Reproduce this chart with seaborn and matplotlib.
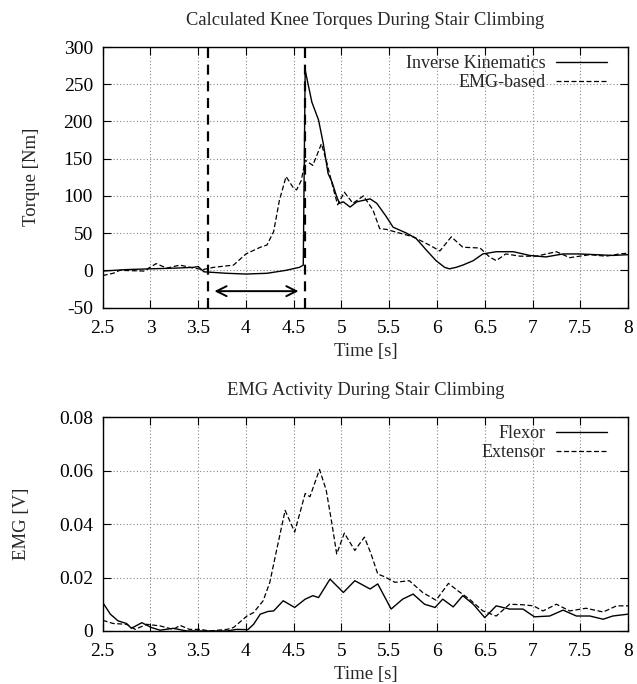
"""
knee torque and EMG during stair climbing, gnuplot-like look
"""

import matplotlib
matplotlib.use("Agg")
import matplotlib.pyplot as plt
from matplotlib.axes import Axes
from matplotlib.ticker import FuncFormatter, MultipleLocator
import seaborn as sns

# --- torque panel ---
ik_t = [2.5, 2.75, 3.0, 3.27, 3.45, 3.5, 3.56, 3.8, 4.0, 4.22, 4.42, 4.56, 4.6,
        4.62, 4.69, 4.76, 4.81, 4.86, 4.9, 4.95, 4.98, 5.02, 5.09, 5.16, 5.23,
        5.3, 5.37, 5.47, 5.54, 5.68, 5.78, 5.89, 5.99, 6.08, 6.13, 6.2, 6.27,
        6.38, 6.48, 6.62, 6.8, 6.97, 7.14, 7.32, 7.49, 7.67, 7.84, 8.0]
ik_torque = [-1, 1, 2, 3, 4, 5, -2, -4, -5, -4, 0, 4, 7,
             269, 226, 202, 170, 130, 119, 99, 90, 92, 85, 92, 94,
             96, 90, 72, 58, 50, 43, 27, 13, 4, 2, 4, 7,
             13, 22, 25, 25, 20, 18, 22, 22, 21, 20, 21]

emg_t = [2.5, 2.61, 2.68, 2.93, 3.06, 3.17, 3.31, 3.45, 3.55, 3.66, 3.87, 4.0,
         4.15, 4.22, 4.29, 4.35, 4.42, 4.49, 4.53, 4.58, 4.62, 4.7, 4.79, 4.84,
         4.91, 4.96, 5.03, 5.12, 5.23, 5.33, 5.4, 5.47, 5.58, 5.75, 5.92, 6.03,
         6.15, 6.27, 6.45, 6.55, 6.62, 6.72, 6.87, 7.04, 7.25, 7.39, 7.6, 7.77,
         7.91, 8.0]
emg_torque = [-7, -4, 0, -1, 9, 3, 7, 3, 1, 4, 7, 22,
              31, 34, 52, 94, 126, 112, 108, 121, 148, 141, 170, 148,
              112, 88, 105, 90, 100, 81, 56, 55, 51, 45, 34, 26,
              45, 31, 30, 18, 13, 22, 19, 19, 25, 17, 21, 19,
              22, 23]

phase_lines = [3.6, 4.62]
arrow_span = (3.67, 4.55)
arrow_y = -28

# --- EMG panel ---
flex_t = [2.5, 2.58, 2.66, 2.75, 2.8, 2.91, 3.01, 3.1, 3.24, 3.38, 3.62, 3.8,
          3.9, 4.02, 4.08, 4.15, 4.23, 4.29, 4.39, 4.51, 4.62, 4.7, 4.76, 4.88,
          4.95, 5.02, 5.14, 5.3, 5.38, 5.52, 5.64, 5.75, 5.87, 5.98, 6.06, 6.17,
          6.27, 6.38, 6.5, 6.62, 6.76, 6.9, 7.02, 7.18, 7.32, 7.46, 7.6, 7.74,
          7.84, 8.0]
flex_v = [0.0107, 0.0063, 0.0038, 0.0028, 0.001, 0.0031, 0.0013, 0.0003, 0.001,
          0.0, 0.0, 0.0, 0.0006, 0.0005, 0.0025, 0.0063, 0.0073, 0.0075, 0.0113,
          0.0088, 0.0119, 0.0132, 0.0125, 0.0194, 0.0169, 0.0144, 0.0188, 0.0157,
          0.0176, 0.0082, 0.0119, 0.0138, 0.01, 0.0088, 0.0119, 0.009, 0.0132,
          0.01, 0.005, 0.0094, 0.0082, 0.0082, 0.0053, 0.0056, 0.0078, 0.0056,
          0.0056, 0.0044, 0.0056, 0.0063]

ext_t = [2.5, 2.61, 2.75, 2.84, 2.96, 3.1, 3.24, 3.31, 3.41, 3.52, 3.62, 3.8,
         3.87, 4.01, 4.08, 4.18, 4.25, 4.32, 4.41, 4.51, 4.62, 4.67, 4.77, 4.84,
         4.9, 4.95, 5.03, 5.14, 5.24, 5.31, 5.38, 5.45, 5.56, 5.71, 5.85, 5.99,
         6.12, 6.22, 6.34, 6.48, 6.62, 6.76, 6.9, 7.01, 7.11, 7.25, 7.39, 7.56,
         7.74, 7.88, 8.0]
ext_v = [0.004, 0.0028, 0.0025, 0.0006, 0.0025, 0.0019, 0.0006, 0.0021, 0.0006,
         0.0006, 0.0, 0.0006, 0.0013, 0.0056, 0.0069, 0.0113, 0.0182, 0.0301,
         0.0451, 0.037, 0.0514, 0.0502, 0.0604, 0.0527, 0.0401, 0.0288, 0.0366,
         0.0301, 0.0351, 0.0288, 0.0213, 0.0203, 0.0182, 0.0188, 0.0144, 0.0115,
         0.0178, 0.015, 0.0119, 0.0075, 0.0056, 0.01, 0.0098, 0.0094, 0.0075,
         0.01, 0.0075, 0.0085, 0.0071, 0.0094, 0.0094]

FS = 13
DASH = (0, (4, 2))


def gnuplot_axes(ax: Axes, ylim, ystep, title, ylabel, ylabelpad):
    ax.set_xlim(2.5, 8)
    ax.set_ylim(*ylim)
    ax.xaxis.set_major_locator(MultipleLocator(0.5))
    ax.yaxis.set_major_locator(MultipleLocator(ystep))
    fmt = FuncFormatter(lambda v, p: "%g" % round(v, 6))
    ax.xaxis.set_major_formatter(fmt)
    ax.yaxis.set_major_formatter(fmt)
    ax.tick_params(direction="in", top=True, right=True, length=6, width=0.8,
                   labelsize=14, colors="black")
    ax.tick_params(axis="x", pad=9)
    ax.tick_params(axis="y", pad=7)
    ax.grid(True, color="#888888", linestyle=(0, (1, 2)), linewidth=0.8)
    for s in ax.spines.values():
        s.set_color("black")
        s.set_linewidth(1.0)
    ax.set_title(title, fontsize=13.3, pad=16)
    ax.set_xlabel("Time [s]", fontsize=13.5, labelpad=4)
    ax.set_ylabel(ylabel, fontsize=13.5, labelpad=ylabelpad)


def add_legend(ax: Axes):
    ax.legend(loc="upper right", bbox_to_anchor=(0.9735, 0.996), frameon=False,
              markerfirst=False, fontsize=FS, handlelength=2.8,
              handletextpad=0.6, labelspacing=0.1, borderaxespad=0)


def main():
    sns.set_style("ticks")
    plt.rcParams["font.family"] = ["Liberation Serif", "DejaVu Serif"]

    fig = plt.figure(figsize=(6.37, 6.84), dpi=100)
    ax1 = fig.add_axes([0.1612, 0.5504, 0.8247, 0.3808])
    ax2 = fig.add_axes([0.1612, 0.0775, 0.8247, 0.3128])

    sns.lineplot(x=ik_t, y=ik_torque, ax=ax1, color="black", linewidth=1.0,
                 label="Inverse Kinematics")
    sns.lineplot(x=emg_t, y=emg_torque, ax=ax1, color="black", linewidth=0.9,
                 linestyle=DASH, label="EMG-based")
    for t in phase_lines:
        ax1.axvline(t, color="black", linewidth=1.6, linestyle=(0, (4.5, 3)))
    ax1.annotate("", xy=(arrow_span[0], arrow_y), xytext=(arrow_span[1], arrow_y),
                 arrowprops=dict(arrowstyle="<->", color="black", lw=1.4,
                                 mutation_scale=18, shrinkA=0, shrinkB=0))
    gnuplot_axes(ax1, (-50, 300), 50, "Calculated Knee Torques During Stair Climbing",
                 "Torque [Nm]", 17)
    add_legend(ax1)

    sns.lineplot(x=flex_t, y=flex_v, ax=ax2, color="black", linewidth=1.0,
                 label="Flexor")
    sns.lineplot(x=ext_t, y=ext_v, ax=ax2, color="black", linewidth=0.9,
                 linestyle=DASH, label="Extensor")
    gnuplot_axes(ax2, (0, 0.08), 0.02, "EMG Activity During Stair Climbing",
                 "EMG [V]", 21)
    add_legend(ax2)

    fig.savefig("out.png", dpi=100, facecolor="white")


main()
